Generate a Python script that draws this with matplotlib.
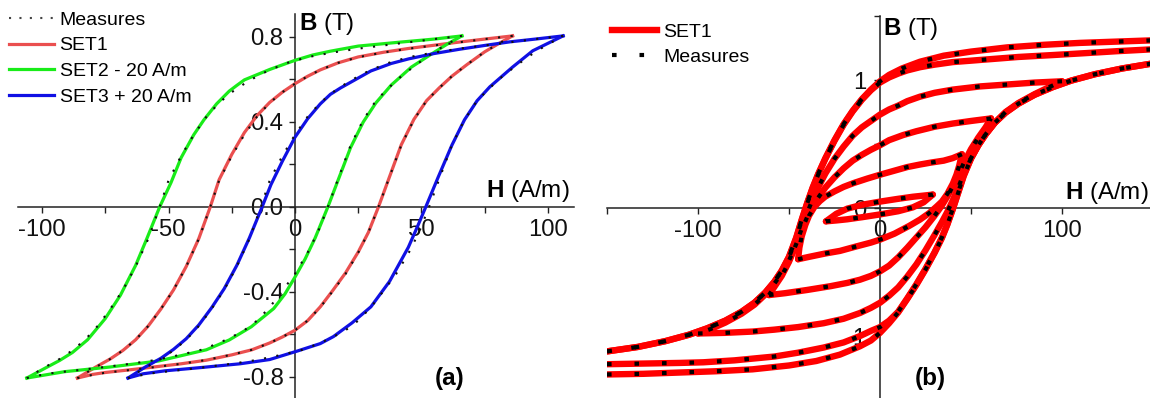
import matplotlib
matplotlib.use("Agg")
import matplotlib.pyplot as plt
from matplotlib.ticker import FixedLocator, FixedFormatter
from matplotlib.lines import Line2D

plt.rcParams['font.family'] = ['Liberation Sans', 'DejaVu Sans']
plt.rcParams['mathtext.fontset'] = 'custom'
plt.rcParams['mathtext.rm'] = 'Liberation Sans'
plt.rcParams['mathtext.bf'] = 'Liberation Sans:bold'
plt.rcParams['axes.unicode_minus'] = False

# ---------------- Panel (a) data (unshifted loops, H in A/m, B in T) ----------------
meas_a_desc_H = [86, 75, 65, 55, 45, 35, 25, 17, 10, 5, 0, -5, -10, -15, -20, -25, -30, -33.5, -38, -43, -48,
                 -53, -58, -63, -68, -73, -79, -86]
meas_a_desc_B = [0.805, 0.79, 0.775, 0.76, 0.745, 0.727, 0.705, 0.678, 0.645, 0.615, 0.58, 0.54, 0.49, 0.425,
                 0.34, 0.24, 0.125, 0.0, -0.15, -0.28, -0.39, -0.48, -0.56, -0.625, -0.675, -0.715, -0.755, -0.805]
meas_a_asc_H = [-86, -80, -75, -65, -55, -45, -35, -25, -17, -10, -5, 0, 5, 10, 15, 20, 25, 29, 33, 37, 42, 47,
                52, 57, 62, 68, 75, 80, 86]
meas_a_asc_B = [-0.805, -0.79, -0.78, -0.767, -0.753, -0.738, -0.72, -0.695, -0.672, -0.64, -0.612, -0.58,
                -0.535, -0.472, -0.395, -0.315, -0.215, -0.12, 0.0, 0.13, 0.29, 0.41, 0.5, 0.56, 0.615, 0.67,
                0.73, 0.765, 0.805]

set1_desc_H = [86, 75, 65, 55, 45, 35, 25, 17, 10, 5, 0, -5, -10, -15, -20, -25, -30, -33.5, -38, -43, -48,
               -53, -58, -63, -68, -73, -79, -86]
set1_desc_B = [0.805, 0.79, 0.776, 0.761, 0.746, 0.728, 0.706, 0.678, 0.645, 0.615, 0.58, 0.54, 0.492, 0.43,
               0.35, 0.247, 0.128, 0.0, -0.148, -0.28, -0.39, -0.48, -0.56, -0.625, -0.675, -0.715, -0.755, -0.805]
set1_asc_H = [-86, -80, -75, -65, -55, -45, -35, -25, -17, -10, -5, 0, 5, 10, 15, 20, 25, 29, 33, 37, 42, 47,
              52, 57, 62, 68, 75, 80, 86]
set1_asc_B = [-0.805, -0.788, -0.779, -0.766, -0.752, -0.738, -0.721, -0.696, -0.672, -0.64, -0.612, -0.58,
              -0.535, -0.47, -0.392, -0.31, -0.212, -0.12, 0.0, 0.13, 0.292, 0.412, 0.5, 0.56, 0.615, 0.67,
              0.73, 0.765, 0.805]

set2_desc_H = [86, 75, 61, 45, 34, 27, 20, 10, 0, -3, -6, -11, -16, -20, -25, -29, -33.5, -38.6, -43, -49, -55,
               -62, -68, -73, -79, -86]
set2_desc_B = [0.805, 0.79, 0.775, 0.757, 0.733, 0.715, 0.69, 0.647, 0.598, 0.572, 0.545, 0.485, 0.41, 0.34,
               0.232, 0.115, 0.0, -0.15, -0.275, -0.415, -0.525, -0.625, -0.685, -0.722, -0.76, -0.805]
set2_asc_H = [-86, -71, -53, -34, -15, -6, 2.7, 11.6, 16, 20, 24, 28, 33, 37, 42, 47, 52, 58, 66, 74, 80, 86]
set2_asc_B = [-0.805, -0.775, -0.753, -0.725, -0.672, -0.626, -0.564, -0.478, -0.41, -0.33, -0.245, -0.145, 0.0,
              0.125, 0.28, 0.40, 0.49, 0.573, 0.658, 0.72, 0.765, 0.805]

set3_desc_H = [86, 75, 65, 55, 45, 35, 25, 18, 10, 4, -2, -6, -10, -15, -20, -25, -29.5, -33, -38, -43, -48,
               -53, -58, -63, -68, -73, -79, -86]
set3_desc_B = [0.805, 0.79, 0.777, 0.76, 0.742, 0.722, 0.697, 0.675, 0.64, 0.60, 0.56, 0.53, 0.485, 0.415,
               0.328, 0.215, 0.105, 0.0, -0.145, -0.275, -0.385, -0.475, -0.555, -0.62, -0.67, -0.712, -0.752,
               -0.805]
set3_asc_H = [-86, -80, -71.3, -56.5, -41.7, -30, -18.8, -10, -4.8, 2.6, 10, 17.4, 24.8, 28.5, 31.7, 36.6, 42,
              47, 52, 57, 66, 74, 80, 86]
set3_asc_B = [-0.805, -0.785, -0.771, -0.755, -0.738, -0.718, -0.677, -0.643, -0.61, -0.545, -0.47, -0.35,
              -0.19, -0.09, 0.0, 0.14, 0.29, 0.41, 0.50, 0.565, 0.658, 0.735, 0.77, 0.805]

# display shifts given in the legend (A/m)
shift_set2 = -20
shift_set3 = 20

labels_a = ["Measures", "SET1", "SET2 - 20 A/m", "SET3 + 20 A/m"]
xticks_a = [-100, -50, 0, 50, 100]
xticklabels_a = ["-100", "-50", "0", "50", "100"]
yticks_a = [-0.8, -0.4, 0.0, 0.4, 0.8]
yticklabels_a = ["-0.8", "-0.4", "0.0", "0.4", "0.8"]

# ---------------- Panel (b) data: family of symmetric loops ----------------
loopA_desc_H = [150, 130, 110, 90, 70, 50, 35, 22, 12, 5, 0, -5, -10, -15, -20, -25, -30, -34, -37, -40, -43,
                -46, -50, -54, -58, -63, -69, -76, -85, -95, -105, -118, -133, -150]
loopA_desc_B = [1.31, 1.30, 1.29, 1.275, 1.255, 1.222, 1.19, 1.143, 1.09, 1.04, 0.99, 0.925, 0.85, 0.76,
                0.655, 0.53, 0.39, 0.265, 0.16, 0.04, -0.09, -0.23, -0.38, -0.49, -0.575, -0.66, -0.74,
                -0.81, -0.88, -0.94, -0.99, -1.04, -1.085, -1.12]
loopA_asc_H = [-150, -130, -110, -90, -70, -50, -35, -22, -11, -5, 0, 5, 10, 15, 20, 25, 30, 34, 37, 40, 43,
               46, 50, 54, 58, 63, 69, 76, 85, 95, 105, 118, 133, 150]
loopA_asc_B = [-1.30, -1.295, -1.285, -1.275, -1.26, -1.23, -1.195, -1.145, -1.08, -1.035, -0.975, -0.9,
               -0.815, -0.71, -0.6, -0.48, -0.35, -0.235, -0.13, -0.01, 0.12, 0.25, 0.385, 0.49, 0.575,
               0.665, 0.745, 0.815, 0.885, 0.945, 0.995, 1.045, 1.09, 1.13]

loopB_desc_H = [150, 130, 113, 95, 76, 58, 40, 30, 22, 15, 10, 5, 0, -5, -10, -15, -20, -25, -30, -34, -37,
                -40, -43, -46, -50, -54, -58, -63, -69, -76, -85, -95, -105, -118, -133, -150]
loopB_desc_B = [1.24, 1.225, 1.21, 1.195, 1.18, 1.16, 1.14, 1.12, 1.10, 1.075, 1.05, 1.02, 0.98, 0.92, 0.845,
                0.755, 0.65, 0.525, 0.385, 0.26, 0.155, 0.035, -0.095, -0.235, -0.385, -0.49, -0.575,
                -0.66, -0.74, -0.81, -0.88, -0.94, -0.99, -1.04, -1.085, -1.12]
loopB_asc_H = [-150, -130, -110, -97, -80, -58, -45, -31, -20, -11, -5, 0, 5, 10, 15, 20, 25, 30, 34, 37, 40,
               43, 46, 50, 54, 58, 63, 69, 76, 85, 95, 105, 118, 133, 150]
loopB_asc_B = [-1.22, -1.215, -1.21, -1.205, -1.19, -1.16, -1.13, -1.09, -1.05, -1.0, -0.96, -0.93, -0.88,
               -0.81, -0.705, -0.595, -0.475, -0.345, -0.23, -0.125, -0.005, 0.125, 0.255, 0.39, 0.49, 0.575,
               0.665, 0.745, 0.815, 0.885, 0.945, 0.995, 1.045, 1.09, 1.13]

loop4_desc_H = [100, 85, 70, 55, 40, 30, 22, 15, 10, 5, 0, -5, -10, -15, -20, -25, -30, -34, -37, -40, -43,
                -46, -50, -54, -58, -63, -69, -76, -85, -93, -100]
loop4_desc_B = [0.99, 0.98, 0.965, 0.95, 0.925, 0.90, 0.87, 0.835, 0.80, 0.77, 0.73, 0.68, 0.63, 0.565, 0.48,
                0.385, 0.27, 0.16, 0.07, -0.04, -0.16, -0.28, -0.41, -0.51, -0.59, -0.675, -0.755, -0.825,
                -0.895, -0.945, -0.98]
loop4_asc_H = [-100, -85, -70, -58, -45, -31, -20, -11, -5, 0, 5, 10, 15, 20, 25, 30, 34, 37, 40, 43, 46, 50,
               54, 58, 63, 69, 76, 85, 93, 100]
loop4_asc_B = [-0.98, -0.975, -0.965, -0.95, -0.93, -0.90, -0.865, -0.82, -0.78, -0.74, -0.685, -0.62, -0.535,
               -0.44, -0.33, -0.21, -0.11, -0.03, 0.06, 0.16, 0.27, 0.39, 0.49, 0.575, 0.665, 0.75, 0.82,
               0.89, 0.945, 0.99]

loop3_desc_H = [61, 50, 40, 30, 20, 12.7, 5, 0, -5, -10, -15, -20, -25, -30, -34, -37, -40, -43, -46, -50,
                -54, -58, -61]
loop3_desc_B = [0.70, 0.68, 0.66, 0.635, 0.60, 0.57, 0.53, 0.49, 0.455, 0.415, 0.37, 0.31, 0.24, 0.16, 0.08,
                0.01, -0.07, -0.17, -0.28, -0.42, -0.53, -0.615, -0.68]
loop3_asc_H = [-61, -52, -40, -27, -18, -11, -5, 0, 5, 10, 15, 20, 25, 30, 34, 37, 40, 43, 46, 50, 54, 58, 61]
loop3_asc_B = [-0.68, -0.665, -0.64, -0.61, -0.585, -0.56, -0.53, -0.495, -0.45, -0.385, -0.31, -0.23, -0.15,
               -0.06, 0.02, 0.09, 0.17, 0.26, 0.35, 0.46, 0.55, 0.63, 0.70]

loop2_desc_H = [45, 40, 35, 28, 22, 15, 10, 5, 0, -7, -14.5, -20, -25, -30, -33, -36, -39, -41, -43, -44.3, -45]
loop2_desc_B = [0.42, 0.39, 0.37, 0.355, 0.34, 0.32, 0.30, 0.28, 0.26, 0.23, 0.195, 0.165, 0.13, 0.09, 0.055,
                0.01, -0.06, -0.13, -0.22, -0.31, -0.40]
loop2_asc_H = [-45, -38.5, -30, -22, -13, -5, 0, 8, 16, 22, 27, 31, 34, 37, 40, 42, 43.5, 45]
loop2_asc_B = [-0.40, -0.38, -0.355, -0.335, -0.30, -0.27, -0.247, -0.2, -0.14, -0.09, -0.04, 0.01, 0.05,
               0.11, 0.19, 0.26, 0.33, 0.42]

loop1_desc_H = [29, 24, 18, 10, 0, -10, -18, -24, -29.7]
loop1_desc_B = [0.105, 0.097, 0.088, 0.072, 0.05, 0.025, -0.005, -0.045, -0.104]
loop1_asc_H = [-29.7, -24, -18, -10, 0, 10, 18, 24, 29]
loop1_asc_B = [-0.104, -0.097, -0.088, -0.072, -0.05, -0.025, 0.005, 0.045, 0.105]

labels_b = ["SET1", "Measures"]
xticks_b = [-100, 0, 100]
xticklabels_b = ["-100", "0", "100"]
yticks_b = [-1, 0, 1]
yticklabels_b = ["-1", "0", "1"]

# ---------------- styling ----------------
W, H = 1150, 398
fig = plt.figure(figsize=(W / 100, H / 100), dpi=100)

C_RED_A = '#ea4f4f'
C_GREEN = '#19ec19'
C_BLUE = '#1010e4'
C_RED_B = '#ff0000'
TICK_FS = 17.2
LAB_FS = 17.4
AX_COL = '#222222'


def setup_axes(ax, xlim, ylim, xt, xtl, yt, ytl, xminor, yminor, ypad):
    ax.set_xlim(*xlim)
    ax.set_ylim(*ylim)
    for s in ['top', 'right']:
        ax.spines[s].set_visible(False)
    ax.spines['left'].set_position(('data', 0))
    ax.spines['bottom'].set_position(('data', 0))
    for s in ['left', 'bottom']:
        ax.spines[s].set_color(AX_COL)
        ax.spines[s].set_linewidth(1.1)
    ax.xaxis.set_major_locator(FixedLocator(xt))
    ax.xaxis.set_major_formatter(FixedFormatter(xtl))
    ax.yaxis.set_major_locator(FixedLocator(yt))
    ax.yaxis.set_major_formatter(FixedFormatter(ytl))
    ax.xaxis.set_minor_locator(FixedLocator(xminor))
    ax.yaxis.set_minor_locator(FixedLocator(yminor))
    ax.tick_params(which='both', direction='out', length=4.6, width=1.0, color=AX_COL,
                   labelsize=TICK_FS, labelcolor='#111111')
    ax.tick_params(axis='x', which='major', pad=4)
    ax.tick_params(axis='y', which='major', pad=ypad)
    ax.patch.set_alpha(0)


# ---------- panel (a) ----------
axa = fig.add_axes([18 / W, 0, 556 / W, 384 / H])
setup_axes(axa, (-109.5, 110.3), (-0.899, 0.908), xticks_a, xticklabels_a, yticks_a, yticklabels_a,
           [-75, -25, 25, 75], [-0.6, -0.2, 0.2, 0.6], 3.6)

lw_a = 2.3
for dh, (dH, dB, aH, aB), col in [
        (0, (set1_desc_H, set1_desc_B, set1_asc_H, set1_asc_B), C_RED_A),
        (shift_set2, (set2_desc_H, set2_desc_B, set2_asc_H, set2_asc_B), C_GREEN),
        (shift_set3, (set3_desc_H, set3_desc_B, set3_asc_H, set3_asc_B), C_BLUE)]:
    axa.plot([h + dh for h in dH], dB, color=col, lw=lw_a, zorder=3, solid_joinstyle='round')
    axa.plot([h + dh for h in aH], aB, color=col, lw=lw_a, zorder=3, solid_joinstyle='round')
    axa.plot([h + dh for h in meas_a_desc_H], meas_a_desc_B, color='#111111', lw=1.5,
             linestyle=(0, (1, 5)), zorder=4)
    axa.plot([h + dh for h in meas_a_asc_H], meas_a_asc_B, color='#111111', lw=1.5,
             linestyle=(0, (1, 5)), zorder=4)

axa.text(1.5, 0.86, r"$\mathbf{B}$ (T)", fontsize=LAB_FS, va='center', ha='left')
axa.text(108.5, 0.075, r"$\mathbf{H}$ (A/m)", fontsize=LAB_FS, va='center', ha='right')
axa.text(61, -0.805, "(a)", fontsize=17.5, fontweight='bold', va='center', ha='center')

handles_a = [Line2D([], [], color='#444444', lw=1.5, linestyle=(0, (1, 4))),
             Line2D([], [], color=C_RED_A, lw=2.3),
             Line2D([], [], color=C_GREEN, lw=2.3),
             Line2D([], [], color=C_BLUE, lw=2.3)]
fig.legend(handles_a, labels_a, loc='upper left', bbox_to_anchor=(9 / W, 1 - 11 / H), frameon=False,
           fontsize=14, handlelength=2.3, handletextpad=0.3, labelspacing=0.42, borderpad=0,
           borderaxespad=0)

# ---------- panel (b) ----------
axb = fig.add_axes([607 / W, 0, 546 / W, 382 / H])
setup_axes(axb, (-150, 150), (-1.484, 1.5), xticks_b, xticklabels_b, yticks_b, yticklabels_b,
           [-150, -50, 50, 150], [-1.5, -0.5, 0.5, 1.5], 5.5)

loops_b = [(loopA_desc_H, loopA_desc_B), (loopA_asc_H, loopA_asc_B),
           (loopB_desc_H, loopB_desc_B), (loopB_asc_H, loopB_asc_B),
           (loop4_desc_H, loop4_desc_B), (loop4_asc_H, loop4_asc_B),
           (loop3_desc_H, loop3_desc_B), (loop3_asc_H, loop3_asc_B),
           (loop2_desc_H, loop2_desc_B), (loop2_asc_H, loop2_asc_B),
           (loop1_desc_H, loop1_desc_B), (loop1_asc_H, loop1_asc_B)]
for hh, bb in loops_b:
    axb.plot(hh, bb, color=C_RED_B, lw=4.6, zorder=3, solid_joinstyle='round', solid_capstyle='round')
for hh, bb in loops_b:
    axb.plot(hh, bb, color='black', lw=3.0, linestyle=(0, (1.1, 5.5)), zorder=4)

axb.text(1.5, 1.395, r"$\mathbf{B}$ (T)", fontsize=LAB_FS, va='center', ha='left')
axb.text(147.5, 0.12, r"$\mathbf{H}$ (A/m)", fontsize=LAB_FS, va='center', ha='right')
axb.text(27.5, -1.33, "(b)", fontsize=17.5, fontweight='bold', va='center', ha='center')

handles_b = [Line2D([], [], color=C_RED_B, lw=4.6),
             Line2D([], [], color='black', lw=3.0, linestyle=(0, (1.1, 5.5)))]
fig.legend(handles_b, labels_b, loc='upper left', bbox_to_anchor=(612 / W, 1 - 23 / H), frameon=False,
           fontsize=14, handlelength=2.3, handletextpad=0.35, labelspacing=0.4, borderpad=0,
           borderaxespad=0)

fig.savefig("out.png", dpi=100)
